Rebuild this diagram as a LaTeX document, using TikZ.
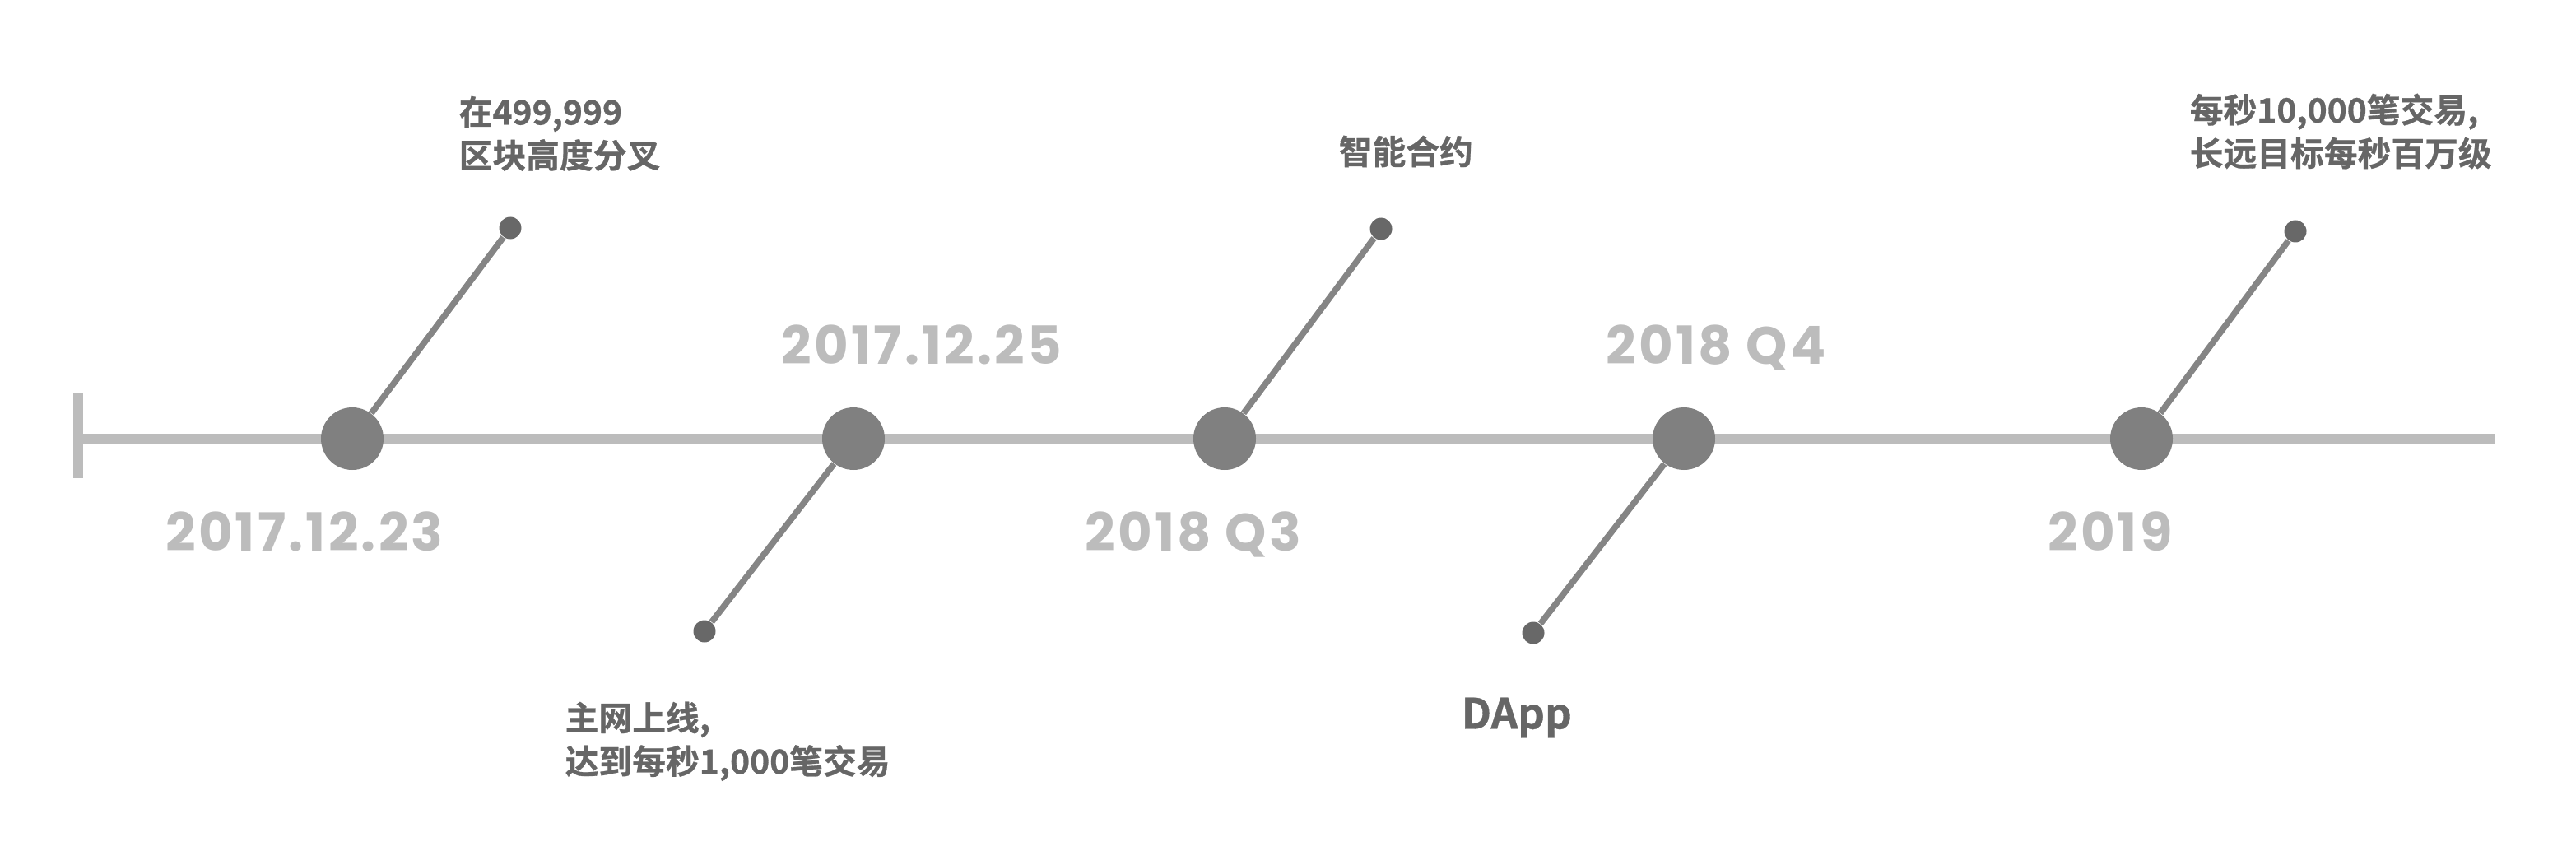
\documentclass[tikz,border=0pt]{standalone}
\usepackage{fontspec}
\usepackage{tikz}
\usetikzlibrary{positioning}
\newfontfamily\cjkfont{Noto Sans CJK SC}[BoldFont={Noto Sans CJK SC Bold}, BoldFeatures={FakeBold=0.7}]
\newfontfamily\datefont{Poppins}[LetterSpace=5]
\definecolor{lineGris}{RGB}{188, 188, 188}
\definecolor{hitoGris}{RGB}{128, 128, 128}
\definecolor{ramaGris}{RGB}{133, 133, 133}
\definecolor{puntoGris}{RGB}{104, 104, 104}
\definecolor{textoGris}{RGB}{102, 102, 102}

\begin{document}
\begin{tikzpicture}[
        hito/.style={circle, fill=hitoGris, minimum size=0.76cm, inner sep=0pt},
        punto/.style={circle, fill=puntoGris, minimum size=0.27cm, inner sep=0pt},
        rama/.style={draw=ramaGris, line width=0.075cm},
        fecha/.style={anchor=base, inner sep=0pt, text=lineGris, font=\datefont\bfseries\fontsize{18.2pt}{20pt}\selectfont},
        nota/.style={anchor=north west, inner sep=0pt, align=left, text=textoGris, font=\cjkfont\bfseries\fontsize{11.6pt}{15pt}\selectfont}]

        \useasboundingbox (0,0) rectangle (31.30,10.50);

        \coordinate (ini) at (0.95,5.17);
        \coordinate (fin) at (30.32,5.17);
        \draw[lineGris, line width=0.12cm] (ini) -- (fin);
        \draw[lineGris, line width=0.12cm] ([yshift=0.56cm]ini) -- ([yshift=-0.48cm]ini);

        \node[hito] (h1) at (4.28,5.17) {};
        \node[hito] (h2) at (10.37,5.17) {};
        \node[hito] (h3) at (14.88,5.17) {};
        \node[hito] (h4) at (20.46,5.17) {};
        \node[hito] (h5) at (26.02,5.17) {};

        \node[punto] (p1) at (6.20,7.73) {};
        \node[punto] (p2) at (8.56,2.83) {};
        \node[punto] (p3) at (16.78,7.72) {};
        \node[punto] (p4) at (18.63,2.81) {};
        \node[punto] (p5) at (27.89,7.69) {};

        \draw[rama] (h1) -- (p1);
        \draw[rama] (h2) -- (p2);
        \draw[rama] (h3) -- (p3);
        \draw[rama] (h4) -- (p4);
        \draw[rama] (h5) -- (p5);

        \node[fecha] (f1) at (3.70,3.81) {2017.12.23};
        \node[fecha] (f2) at (11.20,6.08) {2017.12.25};
        \node[fecha] (f3) at (14.50,3.81) {2018 Q3};
        \node[fecha] (f4) at (20.85,6.08) {2018 Q4};
        \node[fecha] (f5) at (25.64,3.81) {2019};

        \node[nota] (n1) at (5.57,9.34) {在499,999\\区块高度分叉};
        \node[nota] (n2) at (6.86,1.98) {主网上线,\\达到每秒1,000笔交易};
        \node[nota] (n3) at (16.26,8.86) {智能合约};
        \node[nota, font=\cjkfont\bfseries\fontsize{14.5pt}{17pt}\selectfont] (n4) at (17.75,2.03) {DApp};
        \node[nota] (n5) at (26.60,9.37) {每秒10,000笔交易,\\长远目标每秒百万级};
    \end{tikzpicture}
\end{document}
